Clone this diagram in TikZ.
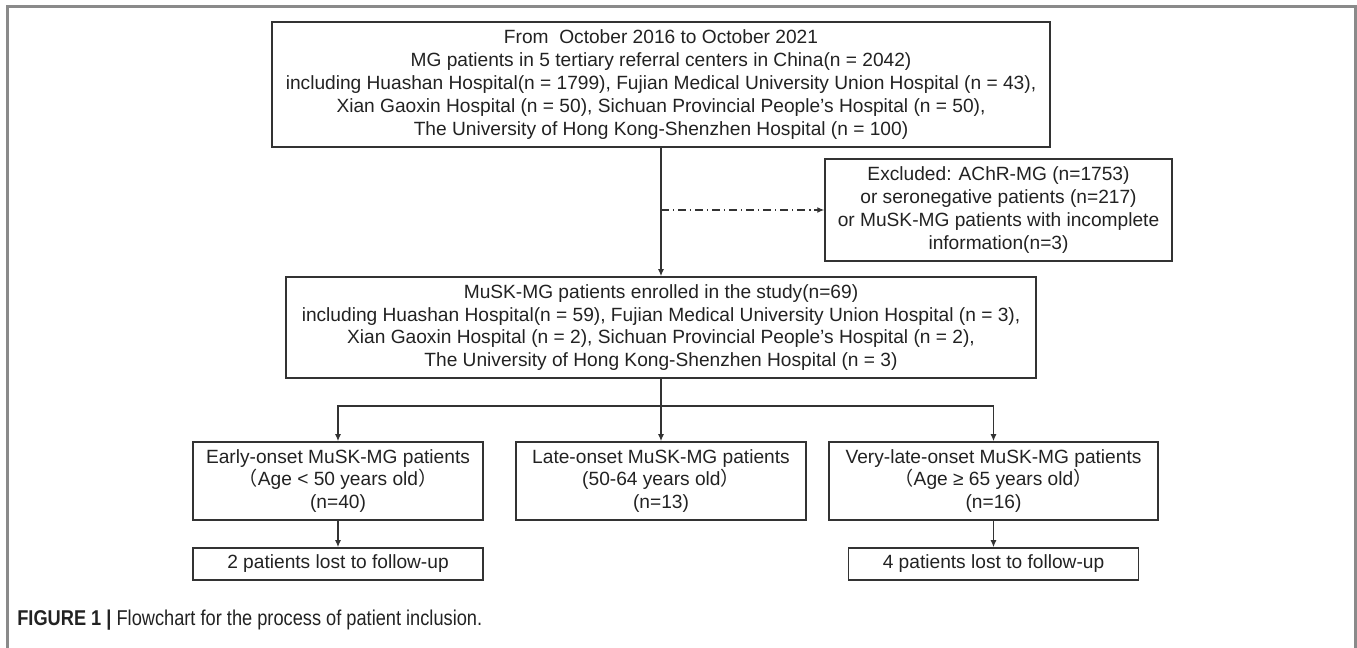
\documentclass[tikz,border=0pt]{standalone}
\usepackage{fontspec}
\setmainfont{Liberation Sans}
\newfontfamily\cjk{Noto Sans CJK SC}
\newfontfamily\capfont[FakeStretch=0.85]{Liberation Sans}
\usetikzlibrary{arrows.meta}
\definecolor{boxgray}{HTML}{333333}
\definecolor{txtgray}{HTML}{222222}
\definecolor{framegray}{HTML}{8A8A8A}

\begin{document}
\begin{tikzpicture}
    [ x=.02cm, y=-.02cm,
      font=\fontsize{10.9}{13}\selectfont,
      stage/.style={draw=boxgray, line width=.85pt, align=center,
                    inner sep=2pt, text=txtgray},
      link/.style={draw=boxgray, line width=.75pt},
      >={Latex[length=4pt,width=3.4pt]},
    ]
    \useasboundingbox (0, 0) rectangle (1357, 648);
    % figure frame, open at the bottom
    \draw[framegray, line width=1.6pt] (7.5, 660) -- (7.5, 6.5) -- (1355.5, 6.5) -- (1355.5, 660);

    \node[stage, minimum width=15.56cm, minimum height=2.5cm] (source) at (661, 84.5)
        {From~ October 2016 to October 2021\\
         MG patients in 5 tertiary referral centers in China(n = 2042)\\
         including Huashan Hospital(n = 1799), Fujian Medical University Union Hospital (n = 43),\\
         Xian Gaoxin Hospital (n = 50), Sichuan Provincial People's Hospital (n = 50),\\
         The University of Hong Kong-Shenzhen Hospital (n = 100)};
    \node[stage, minimum width=6.94cm, minimum height=2.04cm] (excluded) at (998.5, 210)
        {Excluded: AChR-MG (n=1753)\\
         or seronegative patients (n=217)\\
         or MuSK-MG patients with incomplete\\
         information(n=3)};
    \node[stage, minimum width=15cm, minimum height=2.02cm] (enrolled) at (661, 327.5)
        {MuSK-MG patients enrolled in the study(n=69)\\
         including Huashan Hospital(n = 59), Fujian Medical University Union Hospital (n = 3),\\
         Xian Gaoxin Hospital (n = 2), Sichuan Provincial People's Hospital (n = 2),\\
         The University of Hong Kong-Shenzhen Hospital (n = 3)};

    \node[stage, minimum width=5.8cm, minimum height=1.56cm] (early) at (338, 481)
        {Early-onset MuSK-MG patients\\
         {\cjk （}Age < 50 years old{\cjk ）}\\
         (n=40)};
    \node[stage, minimum width=5.8cm, minimum height=1.56cm] (late) at (661, 481)
        {Late-onset MuSK-MG patients\\
         (50-64 years old{\cjk ）}\\
         (n=13)};
    \node[stage, minimum width=6.58cm, minimum height=1.56cm] (vlate) at (993.5, 481)
        {Very-late-onset MuSK-MG patients\\
         {\cjk （}Age ≥ 65 years old{\cjk ）}\\
         (n=16)};
    \node[stage, minimum width=5.8cm, minimum height=.64cm] (lostA) at (338, 564)
        {2 patients lost to follow-up};
    \node[stage, minimum width=5.8cm, minimum height=.64cm] (lostB) at (993.5, 564)
        {4 patients lost to follow-up};

    \draw[link,->] (source) -- (enrolled);
    \coordinate (branch) at (source.south |- excluded.west);
    \draw[link,->,dash pattern=on 4.5pt off 2.2pt on .8pt off 2.2pt] (branch) -- (excluded.west);

    \coordinate (split) at (661, 406);
    \draw[link,->] (enrolled) -- (late);
    \draw[link,->] (split) -| (early.north);
    \draw[link,->] (split) -| (vlate.north);
    \draw[link,->] (early) -- (lostA);
    \draw[link,->] (vlate) -- (lostB);

    \node[anchor=west, inner sep=0pt, text=txtgray,
          font=\capfont\fontsize{12.2}{14}\selectfont] (caption) at (17, 620)
        {\textbf{FIGURE 1 |} Flowchart for the process of patient inclusion.};
\end{tikzpicture}
\end{document}
